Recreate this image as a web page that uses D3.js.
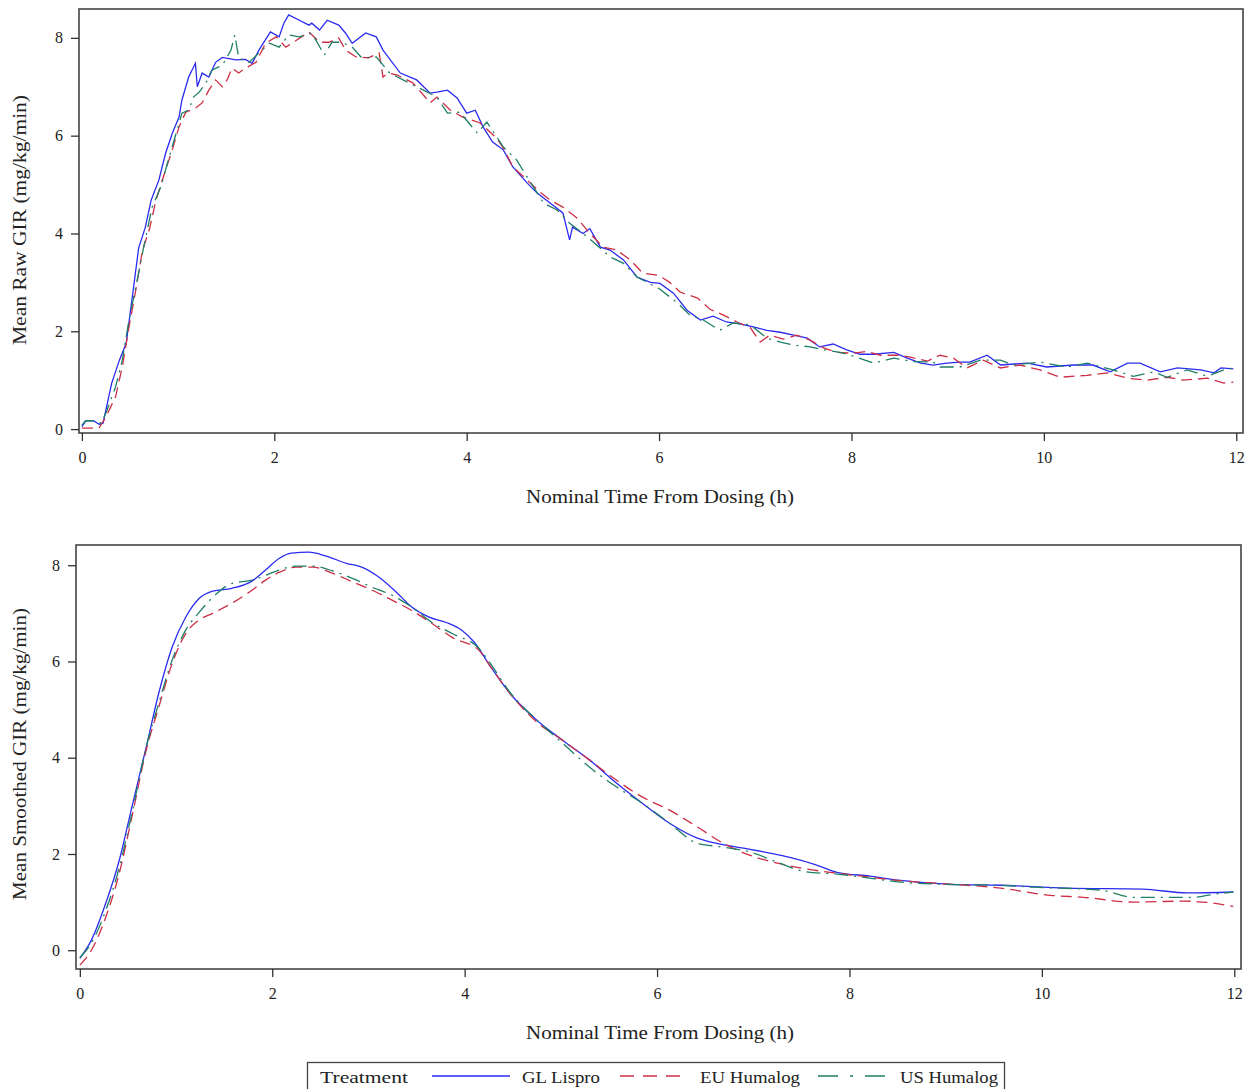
<!DOCTYPE html>
<html>
<head>
<meta charset="utf-8">
<script src="https://cdn.jsdelivr.net/npm/d3@7"></script>
<style>
  body { margin: 0; background: #fff; }
  svg { display: block; font-family: "Liberation Serif", "Times New Roman", serif; }
  .tick text { font-family: "Liberation Serif", "Times New Roman", serif; font-size: 16px; fill: #222; }
  .tick line { stroke: #333; stroke-width: 1.3; }
</style>
</head>
<body>
<div id="chart"></div>
<script>
// ---- data: [hours, GIR mg/kg/min] ----
var xTicks = [0, 2, 4, 6, 8, 10, 12];
var yTicks = [0, 2, 4, 6, 8];
var treatments = ['GL Lispro', 'EU Humalog', 'US Humalog'];

var rawGL = [[0,0.05],[0.04,0.17],[0.12,0.17],[0.18,0.10],[0.22,0.12],[0.31,0.94],[0.39,1.41],[0.46,1.75],[0.52,2.64],
  [0.59,3.70],[0.66,4.13],[0.72,4.68],[0.80,5.09],[0.87,5.64],[0.94,6.05],[1.01,6.38],[1.04,6.73],[1.11,7.20],[1.18,7.48],
  [1.20,7.00],[1.25,7.28],[1.32,7.20],[1.39,7.50],[1.46,7.60],[1.60,7.55],[1.70,7.56],[1.77,7.48],[1.84,7.75],[1.96,8.12],
  [2.05,8.02],[2.10,8.30],[2.15,8.47],[2.26,8.36],[2.36,8.26],[2.39,8.30],[2.47,8.16],[2.55,8.36],[2.67,8.26],[2.74,8.10],
  [2.81,7.89],[2.95,8.10],[3.06,8.02],[3.13,7.75],[3.31,7.28],[3.48,7.14],[3.62,6.87],[3.69,6.89],[3.80,6.93],[3.90,6.77],
  [4.00,6.46],[4.09,6.52],[4.17,6.18],[4.27,5.87],[4.38,5.71],[4.48,5.36],[4.63,5.03],[4.73,4.83],[4.87,4.62],[5.00,4.42],
  [5.07,3.87],[5.10,4.13],[5.21,4.00],[5.28,4.10],[5.39,3.72],[5.49,3.66],[5.63,3.46],[5.77,3.11],[5.91,3.00],[6.01,2.98],
  [6.15,2.78],[6.29,2.43],[6.43,2.23],[6.56,2.31],[6.70,2.19],[6.84,2.15],[6.98,2.09],[7.12,2.02],[7.26,1.98],[7.40,1.92],
  [7.54,1.86],[7.67,1.68],[7.81,1.74],[7.95,1.62],[8.09,1.53],[8.23,1.53],[8.44,1.57],[8.58,1.45],[8.72,1.35],[8.85,1.31],
  [8.99,1.35],[9.13,1.37],[9.23,1.37],[9.41,1.51],[9.55,1.31],[9.83,1.35],[10.03,1.27],[10.31,1.31],[10.51,1.31],[10.69,1.17],
  [10.87,1.35],[11.00,1.35],[11.21,1.17],[11.39,1.25],[11.63,1.21],[11.77,1.15],[11.84,1.25],[11.97,1.23]];

var rawEU = [[0,0.02],[0.10,0.02],[0.18,0.03],[0.25,0.25],[0.35,0.66],[0.42,1.27],[0.49,2.09],[0.56,2.84],[0.63,3.66],
  [0.70,4.07],[0.77,4.68],[0.87,5.30],[0.94,5.71],[1.01,6.18],[1.08,6.48],[1.18,6.56],[1.25,6.67],[1.32,6.93],[1.39,7.14],
  [1.46,7.00],[1.51,7.14],[1.56,7.38],[1.63,7.28],[1.70,7.38],[1.81,7.50],[1.91,7.89],[2.02,8.02],[2.12,7.81],[2.23,7.95],
  [2.36,8.12],[2.47,7.91],[2.57,7.91],[2.67,8.00],[2.74,7.75],[2.85,7.61],[2.98,7.59],[3.09,7.69],[3.13,7.20],[3.18,7.28],
  [3.28,7.24],[3.44,7.08],[3.62,6.67],[3.69,6.79],[3.83,6.52],[3.96,6.38],[4.14,6.26],[4.31,5.95],[4.38,5.75],[4.48,5.36],
  [4.63,5.09],[4.76,4.85],[4.87,4.68],[5.00,4.54],[5.15,4.31],[5.28,4.00],[5.42,3.72],[5.56,3.66],[5.70,3.46],[5.83,3.19],
  [5.98,3.15],[6.04,3.09],[6.11,3.00],[6.22,2.80],[6.40,2.68],[6.53,2.45],[6.67,2.33],[6.81,2.19],[6.95,2.07],[7.05,1.78],
  [7.15,1.92],[7.29,1.84],[7.43,1.92],[7.57,1.82],[7.71,1.66],[7.85,1.57],[8.02,1.55],[8.16,1.59],[8.30,1.51],[8.51,1.51],
  [8.61,1.47],[8.79,1.39],[8.92,1.51],[9.06,1.45],[9.20,1.25],[9.37,1.41],[9.55,1.25],[9.75,1.31],[9.96,1.21],[10.17,1.06],
  [10.45,1.10],[10.66,1.15],[10.87,1.04],[11.07,1.00],[11.28,1.06],[11.45,1.00],[11.70,1.04],[11.87,0.94],[11.97,0.96]];

var rawUS = [[0,0.08],[0.04,0.17],[0.15,0.17],[0.20,0.12],[0.25,0.33],[0.35,0.86],[0.42,1.41],[0.49,2.23],[0.56,2.90],
  [0.63,3.60],[0.73,4.54],[0.82,4.95],[0.89,5.44],[0.98,6.05],[1.04,6.46],[1.11,6.52],[1.16,6.79],[1.22,6.89],[1.29,7.08],
  [1.35,7.34],[1.46,7.44],[1.55,7.75],[1.59,8.06],[1.63,7.59],[1.74,7.50],[1.84,7.69],[1.95,7.89],[2.05,7.81],[2.15,8.06],
  [2.26,8.02],[2.39,8.10],[2.52,7.65],[2.60,7.91],[2.70,7.91],[2.81,7.81],[2.91,7.59],[3.06,7.61],[3.20,7.28],[3.48,7.00],
  [3.69,6.79],[3.80,6.46],[3.93,6.48],[4.11,6.05],[4.21,6.28],[4.38,5.77],[4.52,5.50],[4.63,5.15],[4.80,4.62],[4.94,4.48],
  [5.07,4.21],[5.21,4.00],[5.39,3.70],[5.49,3.52],[5.63,3.39],[5.77,3.11],[6.01,2.86],[6.19,2.58],[6.32,2.33],[6.46,2.23],
  [6.63,2.02],[6.77,2.17],[6.95,2.13],[7.12,1.86],[7.26,1.78],[7.40,1.72],[7.57,1.68],[7.71,1.62],[7.88,1.57],[8.02,1.49],
  [8.23,1.35],[8.44,1.45],[8.64,1.38],[8.85,1.37],[8.92,1.27],[9.13,1.27],[9.34,1.41],[9.55,1.41],[9.68,1.31],[9.96,1.37],
  [10.24,1.27],[10.45,1.35],[10.72,1.21],[10.93,1.08],[11.14,1.17],[11.28,1.06],[11.49,1.21],[11.70,1.08],[11.87,1.21],[11.97,1.25]];

var smoothGL = [[0,-0.17],[0.12,0.21],[0.27,0.98],[0.41,1.87],[0.54,2.97],[0.69,4.22],[0.82,5.34],[0.96,6.30],[1.10,6.92],
  [1.24,7.31],[1.38,7.46],[1.58,7.52],[1.79,7.67],[1.93,7.90],[2.07,8.14],[2.20,8.25],[2.38,8.27],[2.56,8.19],[2.77,8.04],
  [2.93,7.96],[3.11,7.75],[3.29,7.44],[3.45,7.13],[3.63,6.92],[3.81,6.81],[3.97,6.65],[4.10,6.40],[4.26,5.92],[4.47,5.34],
  [4.75,4.78],[5.02,4.36],[5.30,3.95],[5.58,3.47],[5.85,3.05],[6.13,2.64],[6.42,2.33],[6.62,2.22],[6.90,2.12],[7.17,2.02],
  [7.38,1.93],[7.66,1.77],[7.87,1.62],[8.21,1.54],[8.53,1.45],[9.05,1.37],[9.57,1.35],[10.26,1.29],[11.05,1.27],[11.51,1.19],[11.99,1.21]];

var smoothEU = [[0,-0.31],[0.12,0.00],[0.27,0.69],[0.41,1.60],[0.54,2.76],[0.69,4.16],[0.82,5.05],[0.96,5.96],[1.10,6.58],
  [1.24,6.86],[1.38,7.00],[1.58,7.21],[1.79,7.48],[1.93,7.69],[2.07,7.85],[2.25,7.96],[2.42,7.96],[2.63,7.83],[2.84,7.65],
  [3.04,7.48],[3.25,7.27],[3.45,7.06],[3.66,6.79],[3.87,6.50],[4.15,6.23],[4.26,5.92],[4.47,5.34],[4.75,4.74],[5.02,4.36],
  [5.30,3.95],[5.58,3.53],[5.85,3.18],[6.13,2.91],[6.42,2.56],[6.69,2.22],[6.97,1.97],[7.25,1.81],[7.52,1.70],[7.87,1.60],
  [8.21,1.52],[8.50,1.45],[9.00,1.38],[9.57,1.29],[10.09,1.14],[10.43,1.10],[10.95,1.00],[11.47,1.02],[11.78,0.98],[11.99,0.91]];

var smoothUS = [[0,-0.15],[0.12,0.15],[0.27,0.83],[0.41,1.72],[0.54,2.84],[0.69,4.22],[0.82,5.13],[0.96,6.03],[1.10,6.65],
  [1.24,7.02],[1.38,7.33],[1.58,7.62],[1.79,7.69],[1.93,7.79],[2.07,7.90],[2.25,7.98],[2.42,7.98],[2.63,7.88],[2.84,7.72],
  [3.04,7.54],[3.25,7.37],[3.45,7.13],[3.66,6.81],[3.87,6.58],[4.15,6.27],[4.26,5.98],[4.47,5.36],[4.75,4.78],[5.02,4.30],
  [5.30,3.80],[5.58,3.39],[5.85,3.05],[6.13,2.64],[6.42,2.22],[6.69,2.14],[6.97,2.04],[7.25,1.83],[7.52,1.64],[7.87,1.58],
  [8.21,1.50],[8.50,1.42],[9.00,1.37],[9.57,1.35],[9.91,1.31],[10.61,1.25],[10.95,1.10],[11.57,1.10],[11.78,1.16],[11.99,1.21]];

// ---- styling ----
var colors = { 'GL Lispro': '#2b2bf0', 'EU Humalog': '#cc2f45', 'US Humalog': '#1f7f66' };
var dashes = { 'GL Lispro': null, 'EU Humalog': '11,6', 'US Humalog': '14,6,2,6' };

var svg = d3.select('#chart').append('svg')
    .attr('width', 1248)
    .attr('height', 1089);

function panel(cfg){
    var x = d3.scaleLinear().domain(cfg.xDomain).range(cfg.xRange);
    var y = d3.scaleLinear().domain(cfg.yDomain).range(cfg.yRange);
    var g = svg.append('g');

    var line = d3.line()
        .x(d => x(d[0]))
        .y(d => y(d[1]))
        .curve(cfg.curve);

    cfg.series.forEach(function(s){
        g.append('path')
            .datum(s.data)
            .attr('fill', 'none')
            .attr('stroke', colors[s.name])
            .attr('stroke-width', 1.3)
            .attr('stroke-dasharray', dashes[s.name])
            .attr('d', line);
    });

    // frame
    g.append('rect')
        .attr('x', cfg.xRange[0]).attr('y', cfg.yRange[1])
        .attr('width', cfg.xRange[1] - cfg.xRange[0])
        .attr('height', cfg.yRange[0] - cfg.yRange[1])
        .attr('fill', 'none')
        .attr('stroke', '#444')
        .attr('stroke-width', 1.6);

    var xAxis = g.append('g')
        .attr('transform', 'translate(0,' + cfg.yRange[0] + ')')
        .call(d3.axisBottom(x).tickValues(xTicks).tickSize(8).tickPadding(11).tickFormat(d3.format('d')))
        .attr('font-family', null);
    xAxis.select('.domain').remove();

    var yAxis = g.append('g')
        .attr('transform', 'translate(' + cfg.xRange[0] + ',0)')
        .call(d3.axisLeft(y).tickValues(yTicks).tickSize(8).tickPadding(8).tickFormat(d3.format('d')))
        .attr('font-family', null);
    yAxis.select('.domain').remove();

    g.append('text')
        .attr('x', 660).attr('y', cfg.xTitleY)
        .attr('text-anchor', 'middle')
        .attr('font-size', 19)
        .attr('fill', '#222')
        .attr('textLength', 268)
        .attr('lengthAdjust', 'spacingAndGlyphs')
        .text('Nominal Time From Dosing (h)');

    g.append('text')
        .attr('transform', 'translate(26,' + cfg.yTitleMid + ') rotate(-90)')
        .attr('text-anchor', 'middle')
        .attr('font-size', 19)
        .attr('fill', '#222')
        .attr('textLength', cfg.yTitleLen)
        .attr('lengthAdjust', 'spacingAndGlyphs')
        .text(cfg.yTitle);
}

panel({
    xDomain: [-0.03, 12.07], xRange: [79, 1243],
    yDomain: [-0.08, 8.59], yRange: [433, 9],
    curve: d3.curveLinear,
    series: [{name: 'GL Lispro', data: rawGL}, {name: 'EU Humalog', data: rawEU}, {name: 'US Humalog', data: rawUS}],
    xTitleY: 503, yTitle: 'Mean Raw GIR (mg/kg/min)', yTitleMid: 220, yTitleLen: 250
});

panel({
    xDomain: [-0.04, 12.07], xRange: [76, 1241],
    yDomain: [-0.39, 8.42], yRange: [969, 545],
    curve: d3.curveMonotoneX,
    series: [{name: 'GL Lispro', data: smoothGL}, {name: 'EU Humalog', data: smoothEU}, {name: 'US Humalog', data: smoothUS}],
    xTitleY: 1039, yTitle: 'Mean Smoothed GIR (mg/kg/min)', yTitleMid: 754, yTitleLen: 292
});

// ---- legend ----
var legend = svg.append('g');
legend.append('rect')
    .attr('x', 307.5).attr('y', 1062.5)
    .attr('width', 697).attr('height', 40)
    .attr('fill', 'none').attr('stroke', '#444').attr('stroke-width', 1.3);
legend.append('text')
    .attr('x', 320).attr('y', 1083)
    .attr('font-size', 17).attr('fill', '#222')
    .attr('textLength', 88).attr('lengthAdjust', 'spacingAndGlyphs')
    .text('Treatment');

var legendItems = [
    {name: 'GL Lispro', x0: 432, x1: 510, tx: 522, tl: 78},
    {name: 'EU Humalog', x0: 620, x1: 686, tx: 700, tl: 100},
    {name: 'US Humalog', x0: 818, x1: 886, tx: 900, tl: 98}
];
legendItems.forEach(function(it){
    legend.append('line')
        .attr('x1', it.x0).attr('x2', it.x1)
        .attr('y1', 1076).attr('y2', 1076)
        .attr('stroke', colors[it.name])
        .attr('stroke-width', 1.3)
        .attr('stroke-dasharray', it.name === 'EU Humalog' ? '14,9' : (it.name === 'US Humalog' ? '20,12,3,12' : null));
    legend.append('text')
        .attr('x', it.tx).attr('y', 1083)
        .attr('font-size', 17).attr('fill', '#222')
        .attr('textLength', it.tl).attr('lengthAdjust', 'spacingAndGlyphs')
        .text(it.name);
});
</script>
</body>
</html>
